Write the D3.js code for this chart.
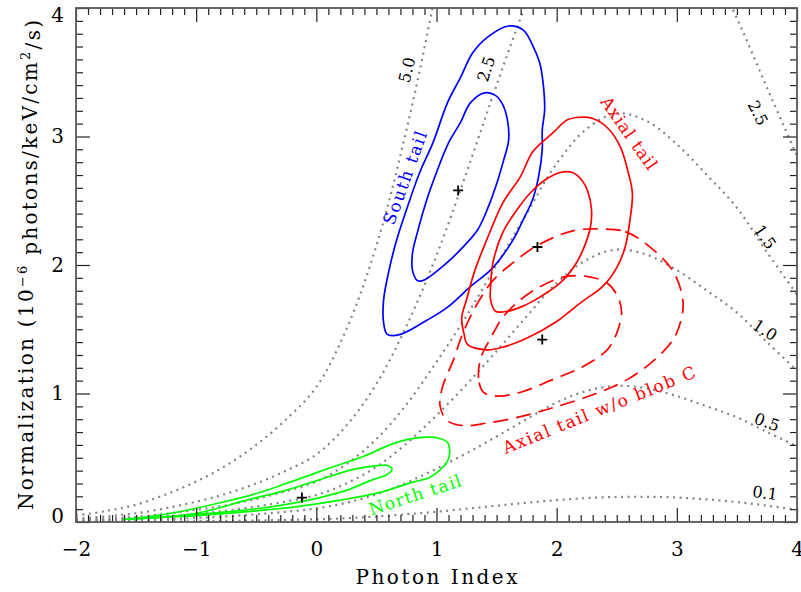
<!DOCTYPE html>
<html>
<head>
<meta charset="utf-8">
<script src="https://cdn.jsdelivr.net/npm/d3@7"></script>
<style>
  body { margin: 0; background: #fff; }
  text { font-family: "DejaVu Serif", serif; }
</style>
</head>
<body>
<div id="chart"></div>
<script>
var width = 801, height = 592;
var plotLeft = 76, plotRight = 797, plotTop = 8, plotBottom = 522;

// axis ticks
var xTicks = [-2, -1, 0, 1, 2, 3, 4];
var yTicks = [0, 1, 2, 3, 4];

// constant-flux curves (dotted), normalization read at each photon index
var fluxGamma = [-2, -1.75, -1.5, -1.25, -1, -0.75, -0.5, -0.25, 0, 0.25, 0.5, 0.75, 1,
                 1.25, 1.5, 1.75, 2, 2.25, 2.5, 2.75, 3, 3.25, 3.5, 3.75, 4];
var flux0p1 = [0.001, 0.002, 0.003, 0.004, 0.006, 0.009, 0.012, 0.016, 0.021, 0.030, 0.043, 0.060, 0.080,
               0.103, 0.127, 0.150, 0.170, 0.186, 0.195, 0.196, 0.190, 0.176, 0.155, 0.127, 0.095];
var flux0p5 = [0.005, 0.009, 0.014, 0.022, 0.032, 0.044, 0.060, 0.080, 0.105, 0.150, 0.215, 0.305, 0.415,
               0.535, 0.665, 0.800, 0.930, 1.020, 1.060, 1.040, 0.980, 0.900, 0.815, 0.700, 0.590];
var flux1p0 = [0.010, 0.017, 0.027, 0.043, 0.063, 0.088, 0.120, 0.160, 0.210, 0.300, 0.430, 0.610, 0.830,
               1.070, 1.330, 1.600, 1.860, 2.040, 2.120, 2.080, 1.960, 1.800, 1.630, 1.400, 1.180];
var flux1p5 = [0.015, 0.026, 0.040, 0.065, 0.095, 0.130, 0.180, 0.240, 0.315, 0.450, 0.645, 0.915, 1.245,
               1.605, 2.000, 2.400, 2.790, 3.060, 3.180, 3.120, 2.940, 2.700, 2.445, 2.100, 1.770];
var flux2p5 = [0.025, 0.043, 0.068, 0.108, 0.158, 0.220, 0.300, 0.400, 0.525, 0.750, 1.075, 1.525, 2.075,
               2.720, 3.400, 4.050, 4.650, 5.100, 5.300, 5.200, 4.900, 4.400, 3.920, 3.380, 2.850];
var flux5p0 = [0.050, 0.085, 0.135, 0.215, 0.315, 0.440, 0.600, 0.800, 1.050, 1.500, 2.150, 3.050, 4.150, 5.350];

// confidence contours [photon index, normalization]
var southOuter = [[1.60,3.86],[1.72,3.83],[1.80,3.71],[1.86,3.57],[1.89,3.39],[1.90,3.21],[1.88,3.05],[1.88,2.90],
                  [1.85,2.69],[1.80,2.51],[1.72,2.35],[1.64,2.20],[1.47,1.98],[1.28,1.83],[1.09,1.67],[0.92,1.57],
                  [0.70,1.46],[0.59,1.46],[0.56,1.55],[0.56,1.73],[0.61,1.98],[0.67,2.20],[0.75,2.43],[0.86,2.72],
                  [0.97,2.95],[1.09,3.26],[1.20,3.46],[1.30,3.65],[1.42,3.77]];
var southInner = [[1.40,3.34],[1.49,3.32],[1.55,3.25],[1.59,3.13],[1.60,2.97],[1.56,2.82],[1.51,2.66],[1.43,2.45],
                  [1.34,2.27],[1.20,2.12],[1.09,2.02],[0.89,1.88],[0.84,1.88],[0.80,1.96],[0.80,2.09],[0.84,2.25],
                  [0.92,2.51],[1.00,2.72],[1.10,2.95],[1.20,3.11],[1.28,3.26]];
var axialOuter = [[2.19,3.15],[2.30,3.14],[2.42,3.07],[2.53,2.92],[2.59,2.74],[2.63,2.56],[2.61,2.35],[2.57,2.14],
                  [2.50,1.98],[2.39,1.84],[2.19,1.70],[2.00,1.56],[1.75,1.43],[1.55,1.36],[1.42,1.34],[1.26,1.38],
                  [1.23,1.46],[1.21,1.59],[1.25,1.73],[1.32,1.96],[1.42,2.20],[1.55,2.48],[1.70,2.69],[1.80,2.88],
                  [1.97,3.03],[2.09,3.13]];
var axialInner = [[2.03,2.72],[2.13,2.72],[2.21,2.66],[2.26,2.57],[2.29,2.43],[2.28,2.29],[2.22,2.12],[2.14,1.98],
                  [2.03,1.86],[1.86,1.75],[1.72,1.68],[1.59,1.64],[1.49,1.64],[1.45,1.73],[1.45,1.83],[1.47,2.02],
                  [1.55,2.25],[1.67,2.43],[1.78,2.56],[1.90,2.66]];
var noBlobOuter = [[2.34,2.28],[2.57,2.26],[2.79,2.13],[2.97,1.95],[3.05,1.73],[3.04,1.59],[2.97,1.42],[2.80,1.25],
                   [2.59,1.11],[2.30,0.99],[1.97,0.89],[1.70,0.82],[1.42,0.77],[1.22,0.75],[1.09,0.79],[1.03,0.90],
                   [1.05,1.05],[1.14,1.26],[1.22,1.47],[1.34,1.70],[1.47,1.88],[1.64,2.02],[1.80,2.13],[1.99,2.22],
                   [2.15,2.27]];
var noBlobInner = [[1.39,1.01],[1.35,1.12],[1.37,1.28],[1.45,1.43],[1.55,1.59],[1.70,1.73],[1.86,1.83],[2.07,1.91],
                   [2.26,1.91],[2.42,1.86],[2.51,1.75],[2.54,1.63],[2.50,1.47],[2.42,1.34],[2.22,1.21],[1.97,1.11],
                   [1.70,1.01],[1.50,0.98]];
var northOuter = [[-1.61,0.02],[-1.41,0.04],[-1.14,0.08],[-0.80,0.15],[-0.47,0.23],[-0.16,0.33],[0.11,0.42],[0.39,0.51],
                  [0.67,0.62],[0.92,0.66],[1.03,0.65],[1.09,0.62],[1.11,0.55],[1.09,0.47],[0.95,0.35],[0.80,0.31],
                  [0.53,0.23],[0.20,0.17],[-0.16,0.12],[-0.58,0.08],[-0.99,0.05],[-1.41,0.03]];
var northInner = [[-1.55,0.02],[-0.99,0.07],[-0.58,0.17],[-0.24,0.25],[0.03,0.33],[0.31,0.41],[0.53,0.44],[0.59,0.44],
                  [0.63,0.41],[0.59,0.37],[0.47,0.33],[0.26,0.25],[0.03,0.19],[-0.30,0.13],[-0.72,0.08],[-1.14,0.05]];

// best fits
var bestFits = [[1.18, 2.58], [1.84, 2.14], [1.88, 1.42], [-0.12, 0.19]];

var x = d3.scaleLinear().domain([-2, 4]).range([plotLeft, plotRight]);
var y = d3.scaleLinear().domain([0, 4]).range([plotBottom, plotTop]);

var svg = d3.select("#chart").append("svg")
    .attr("width", width)
    .attr("height", height);

svg.append("defs").append("clipPath").attr("id", "plotclip")
    .append("rect")
    .attr("x", plotLeft).attr("y", plotTop)
    .attr("width", plotRight - plotLeft).attr("height", plotBottom - plotTop);

var plot = svg.append("g").attr("clip-path", "url(#plotclip)");

// dotted flux curves
var fluxLine = d3.line()
    .x(function(d, i) { return x(fluxGamma[i]); })
    .y(function(d) { return y(d); })
    .curve(d3.curveCatmullRom);

plot.append("g").selectAll("path")
    .data([flux0p1, flux0p5, flux1p0, flux1p5, flux2p5, flux5p0])
    .enter().append("path")
    .attr("d", fluxLine)
    .attr("fill", "none")
    .attr("stroke", "#858585")
    .attr("stroke-width", 2.2)
    .attr("stroke-dasharray", "2,4.5");

// contours
var contourLine = d3.line()
    .x(function(d) { return x(d[0]); })
    .y(function(d) { return y(d[1]); })
    .curve(d3.curveCatmullRomClosed.alpha(0.5));

var contours = [
    { pts: southOuter, color: "#0000ff", dash: null },
    { pts: southInner, color: "#0000ff", dash: null },
    { pts: noBlobOuter, color: "#ff0000", dash: "15,8" },
    { pts: noBlobInner, color: "#ff0000", dash: "15,8" },
    { pts: axialOuter, color: "#ff0000", dash: null },
    { pts: axialInner, color: "#ff0000", dash: null },
    { pts: northOuter, color: "#00ff00", dash: null },
    { pts: northInner, color: "#00ff00", dash: null }
];

plot.append("g").selectAll("path")
    .data(contours)
    .enter().append("path")
    .attr("d", function(d) { return contourLine(d.pts); })
    .attr("fill", "none")
    .attr("stroke", function(d) { return d.color; })
    .attr("stroke-width", 1.7)
    .attr("stroke-dasharray", function(d) { return d.dash; });

// best-fit crosses
plot.append("g").selectAll("path")
    .data(bestFits)
    .enter().append("path")
    .attr("transform", function(d) { return "translate(" + x(d[0]) + "," + y(d[1]) + ")"; })
    .attr("d", "M-5,0H5M0,-5V5")
    .attr("stroke", "#000")
    .attr("stroke-width", 1.8);

// flux level labels
var fluxLabels = [
    { t: "5.0", g: 0.754, n: 3.518, a: -76 },
    { t: "2.5", g: 1.412, n: 3.525, a: -72 },
    { t: "2.5", g: 3.675, n: 3.183, a: 63 },
    { t: "1.5", g: 3.734, n: 2.218, a: 55 },
    { t: "1.0", g: 3.734, n: 1.494, a: 33 },
    { t: "0.5", g: 3.750, n: 0.778, a: 20 },
    { t: "0.1", g: 3.734, n: 0.226, a: 8 }
];
svg.append("g").selectAll("text")
    .data(fluxLabels)
    .enter().append("text")
    .attr("transform", function(d) { return "translate(" + x(d.g) + "," + y(d.n) + ") rotate(" + d.a + ")"; })
    .attr("text-anchor", "middle")
    .attr("dy", "0.35em")
    .style("font-size", "16px")
    .attr("fill", "#000")
    .text(function(d) { return d.t; });

// region labels
var regionLabels = [
    { t: "South tail", g: 0.738, n: 2.677, a: -70, len: 98, c: "#0000ff" },
    { t: "Axial tail", g: 2.602, n: 3.027, a: 55, len: 85, c: "#ff0000" },
    { t: "Axial tail w/o blob C", g: 2.352, n: 0.872, a: -22, len: 206, c: "#ff0000" },
    { t: "North tail", g: 0.821, n: 0.210, a: -18, len: 96, c: "#00ff00" }
];
svg.append("g").selectAll("text")
    .data(regionLabels)
    .enter().append("text")
    .attr("transform", function(d) { return "translate(" + x(d.g) + "," + y(d.n) + ") rotate(" + d.a + ")"; })
    .attr("text-anchor", "middle")
    .attr("dy", "0.35em")
    .attr("textLength", function(d) { return d.len; })
    .attr("lengthAdjust", "spacing")
    .style("font-size", "17px")
    .attr("fill", function(d) { return d.c; })
    .text(function(d) { return d.t; });

// axes
var xMinor = x.ticks(60).filter(function(d) { return Math.abs(d - Math.round(d)) > 1e-6; });
var yMinor = y.ticks(40).filter(function(d) { return Math.abs(d - Math.round(d)) > 1e-6; });

function styleAxis(g) {
    g.select(".domain").remove();
    g.selectAll(".tick line").attr("stroke", "#222").attr("stroke-width", 1.2);
    g.selectAll("text").style("font-family", "'DejaVu Serif', serif").style("font-size", "20px").attr("fill", "#000");
}

svg.append("g").attr("transform", "translate(0," + plotBottom + ")")
    .call(d3.axisBottom(x).tickValues(xTicks).tickSizeInner(-14).tickSizeOuter(0).tickPadding(20).tickFormat(d3.format("d")))
    .call(styleAxis);
svg.append("g").attr("transform", "translate(0," + plotBottom + ")")
    .call(d3.axisBottom(x).tickValues(xMinor).tickSizeInner(-7).tickSizeOuter(0).tickFormat(""))
    .call(styleAxis);
svg.append("g").attr("transform", "translate(0," + plotTop + ")")
    .call(d3.axisTop(x).tickValues(xTicks).tickSizeInner(-14).tickSizeOuter(0).tickFormat(""))
    .call(styleAxis);
svg.append("g").attr("transform", "translate(0," + plotTop + ")")
    .call(d3.axisTop(x).tickValues(xMinor).tickSizeInner(-7).tickSizeOuter(0).tickFormat(""))
    .call(styleAxis);

svg.append("g").attr("transform", "translate(" + plotLeft + ",0)")
    .call(d3.axisLeft(y).tickValues(yTicks).tickSizeInner(-14).tickSizeOuter(0).tickPadding(12).tickFormat(d3.format("d")))
    .call(styleAxis)
    .selectAll("text")
    .attr("dy", function(d) { return d === 4 ? "0.67em" : d === 0 ? "0.02em" : "0.32em"; });
svg.append("g").attr("transform", "translate(" + plotLeft + ",0)")
    .call(d3.axisLeft(y).tickValues(yMinor).tickSizeInner(-7).tickSizeOuter(0).tickFormat(""))
    .call(styleAxis);
svg.append("g").attr("transform", "translate(" + plotRight + ",0)")
    .call(d3.axisRight(y).tickValues(yTicks).tickSizeInner(-14).tickSizeOuter(0).tickFormat(""))
    .call(styleAxis);
svg.append("g").attr("transform", "translate(" + plotRight + ",0)")
    .call(d3.axisRight(y).tickValues(yMinor).tickSizeInner(-7).tickSizeOuter(0).tickFormat(""))
    .call(styleAxis);

// frame
svg.append("rect")
    .attr("x", plotLeft).attr("y", plotTop)
    .attr("width", plotRight - plotLeft).attr("height", plotBottom - plotTop)
    .attr("fill", "none")
    .attr("stroke", "#5a5a5a")
    .attr("stroke-width", 1.8);

// axis titles
svg.append("text")
    .attr("x", (plotLeft + plotRight) / 2)
    .attr("y", 584)
    .attr("text-anchor", "middle")
    .attr("textLength", 162)
    .attr("lengthAdjust", "spacing")
    .style("font-size", "20px")
    .text("Photon Index");

var yTitle = svg.append("text")
    .attr("transform", "translate(33," + ((plotTop + plotBottom) / 2) + ") rotate(-90)")
    .attr("text-anchor", "middle")
    .attr("textLength", 490)
    .attr("lengthAdjust", "spacing")
    .style("font-size", "20px");
yTitle.append("tspan").text("Normalization (10");
yTitle.append("tspan").attr("dy", "-0.5em").style("font-size", "13px").text("\u22126");
yTitle.append("tspan").attr("dy", "0.5em").text(" photons/keV/cm");
yTitle.append("tspan").attr("dy", "-0.5em").style("font-size", "13px").text("2");
yTitle.append("tspan").attr("dy", "0.5em").text("/s)");
</script>
</body>
</html>
